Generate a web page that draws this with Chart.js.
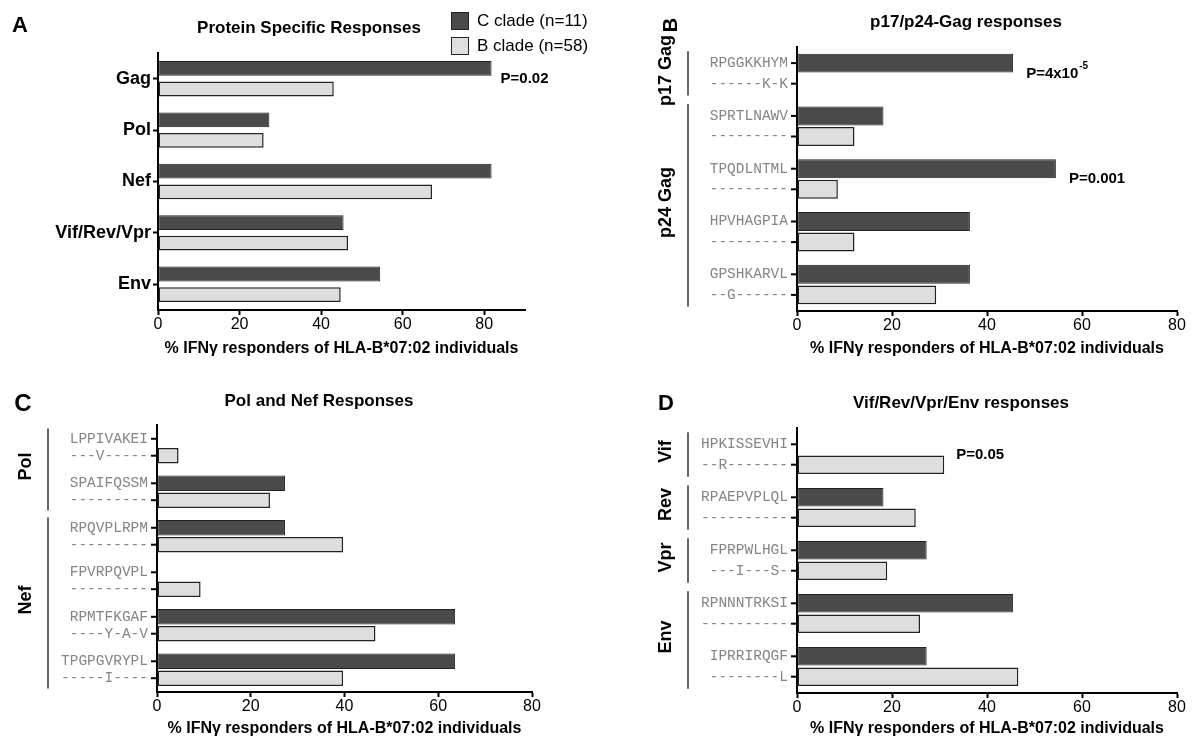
<!DOCTYPE html>
<html><head><meta charset="utf-8">
<script src="https://cdn.jsdelivr.net/npm/chart.js@4.4.1/dist/chart.umd.min.js"></script>
<style>
html,body{margin:0;padding:0;background:#fff}
body{width:1193px;height:741px;overflow:hidden;position:relative;font-family:"Liberation Sans",Arial,sans-serif;color:#000}
canvas{position:absolute}
.t{position:absolute;font-weight:bold;white-space:nowrap;transform:translate(-50%,-50%);line-height:1}
.lg{position:absolute;font-size:17px;white-space:nowrap;line-height:1}
.sw{position:absolute;width:16px;height:16px;border:1px solid #222}
</style></head><body>
<canvas id="cA" width="596" height="370" style="left:0;top:0"></canvas>
<canvas id="cB" width="597" height="370" style="left:596px;top:0"></canvas>
<canvas id="cC" width="596" height="371" style="left:0;top:370px"></canvas>
<canvas id="cD" width="597" height="371" style="left:596px;top:370px"></canvas>

<div class="t" style="left:20px;top:25px;font-size:22px">A</div>
<div class="t" style="left:670px;top:25px;font-size:20px;transform:translate(-50%,-50%) rotate(-90deg)">B</div>
<div class="t" style="left:23px;top:403px;font-size:24px">C</div>
<div class="t" style="left:666px;top:403px;font-size:22px">D</div>

<div class="t" style="left:309px;top:27px;font-size:17px">Protein Specific Responses</div>
<div class="t" style="left:966px;top:21px;font-size:17px">p17/p24-Gag responses</div>
<div class="t" style="left:319px;top:400px;font-size:17px">Pol and Nef Responses</div>
<div class="t" style="left:961px;top:402px;font-size:17px">Vif/Rev/Vpr/Env responses</div>

<div class="sw" style="left:451px;top:12px;background:#4a4a4a"></div>
<div class="lg" style="left:477px;top:12px">C clade (n=11)</div>
<div class="sw" style="left:451px;top:37px;background:#dedede"></div>
<div class="lg" style="left:477px;top:37px">B clade (n=58)</div>

<script>
// ---------- data ----------
const seriesNames = ['C clade (n=11)', 'B clade (n=58)'];
const xAxisTitle = '% IFN\u03b3 responders of HLA-B*07:02 individuals';

const categoriesA = ['Gag', 'Pol', 'Nef', 'Vif/Rev/Vpr', 'Env'];
const cCladeA = [81.8, 27.3, 81.8, 45.5, 54.5];
const bCladeA = [43.1, 25.9, 67.2, 46.6, 44.8];
const pCatsA = [0];
const pTextsA = ['P=0.02'];

const peptidesB = ['RPGGKKHYM', 'SPRTLNAWV', 'TPQDLNTML', 'HPVHAGPIA', 'GPSHKARVL'];
const variantsB = ['------K-K', '---------', '---------', '---------', '--G------'];
const cCladeB = [45.5, 18.2, 54.5, 36.4, 36.4];
const bCladeB = [0, 12.1, 8.6, 12.1, 29.3];
const groupNamesB = ['p17 Gag', 'p24 Gag'];
const groupSizesB = [1, 4];
const pCatsB = [0, 2];
const pTextsB = ['P=4x10^-5', 'P=0.001'];

const peptidesC = ['LPPIVAKEI', 'SPAIFQSSM', 'RPQVPLRPM', 'FPVRPQVPL', 'RPMTFKGAF', 'TPGPGVRYPL'];
const variantsC = ['---V-----', '---------', '---------', '---------', '----Y-A-V', '-----I----'];
const cCladeC = [0, 27.3, 27.3, 0, 63.6, 63.6];
const bCladeC = [4.6, 24.1, 39.7, 9.3, 46.6, 39.7];
const groupNamesC = ['Pol', 'Nef'];
const groupSizesC = [2, 4];

const peptidesD = ['HPKISSEVHI', 'RPAEPVPLQL', 'FPRPWLHGL', 'RPNNNTRKSI', 'IPRRIRQGF'];
const variantsD = ['--R-------', '----------', '---I---S-', '----------', '--------L'];
const cCladeD = [0, 18.2, 27.3, 45.5, 27.3];
const bCladeD = [31.0, 25.0, 19.0, 25.9, 46.6];
const groupNamesD = ['Vif', 'Rev', 'Vpr', 'Env'];
const groupSizesD = [1, 1, 1, 2];
const pCatsD = [0];
const pTextsD = ['P=0.05'];

// ---------- styles ----------
const SANS = '"Liberation Sans", Arial, sans-serif';
const MONO = '"Liberation Mono", "DejaVu Sans Mono", monospace';
const DARK = '#4a4a4a', LIGHT = '#dedede';
Chart.defaults.font.family = SANS;

function rowTicksPlugin() {
  return { id: 'rowTicks', afterDraw(chart) {
    const ctx = chart.ctx, left = chart.chartArea.left;
    ctx.save(); ctx.strokeStyle = '#000'; ctx.lineWidth = 2;
    chart.data.datasets.forEach((d, i) => {
      chart.getDatasetMeta(i).data.forEach(el => {
        ctx.beginPath(); ctx.moveTo(left - 6, el.y); ctx.lineTo(left, el.y); ctx.stroke();
      });
    });
    ctx.restore();
  }};
}

function groupPlugin(names, sizes, lineGap, textGap) {
  return { id: 'groups', afterDraw(chart) {
    const ctx = chart.ctx, y = chart.scales.y, left = chart.chartArea.left;
    const step = y.getPixelForValue(1) - y.getPixelForValue(0);
    let idx = 0;
    ctx.save();
    names.forEach((name, g) => {
      const first = idx, last = idx + sizes[g] - 1; idx += sizes[g];
      const y1 = y.getPixelForValue(first) - step * 0.42;
      const y2 = y.getPixelForValue(last) + step * 0.42;
      ctx.strokeStyle = '#333'; ctx.lineWidth = 1.5;
      ctx.beginPath(); ctx.moveTo(left - lineGap, y1); ctx.lineTo(left - lineGap, y2); ctx.stroke();
      ctx.save();
      ctx.translate(left - textGap, (y1 + y2) / 2 - 3);
      ctx.rotate(-Math.PI / 2);
      ctx.font = 'bold 18px ' + SANS; ctx.fillStyle = '#000';
      ctx.textAlign = 'center'; ctx.textBaseline = 'middle';
      ctx.fillText(name, 0, 0);
      ctx.restore();
    });
    ctx.restore();
  }};
}

function pNotesPlugin(cats, texts, gap) {
  return { id: 'pNotes', afterDraw(chart) {
    const ctx = chart.ctx, x = chart.scales.x, y = chart.scales.y;
    ctx.save(); ctx.fillStyle = '#000'; ctx.textBaseline = 'middle'; ctx.textAlign = 'left';
    cats.forEach((c, i) => {
      const maxV = Math.max(...chart.data.datasets.map(d => d.data[c] || 0));
      const px = x.getPixelForValue(maxV) + gap, py = y.getPixelForValue(c);
      const parts = texts[i].split('^');
      ctx.font = 'bold 15px ' + SANS;
      ctx.fillText(parts[0], px, py);
      if (parts[1]) {
        const w = ctx.measureText(parts[0]).width;
        ctx.font = 'bold 10px ' + SANS;
        ctx.fillText(parts[1], px + w + 1, py - 7);
      }
    });
    ctx.restore();
  }};
}

function makeChart(id, o) {
  const n = o.labels.length;
  const catPx = (o.bottom - o.top) / n;
  const slot = catPx * o.catPct / 2;
  const yTicks = o.mono
    ? { font: { family: MONO, size: 14.5, lineHeight: slot.toFixed(2) + 'px' }, color: '#858585', padding: 9 }
    : { font: { family: SANS, size: 18, weight: 'bold' }, color: '#000', padding: 2 };
  const yGrid = o.mono
    ? { drawOnChartArea: false, drawTicks: false }
    : { offset: false, drawOnChartArea: false, drawTicks: true, tickLength: 5, tickWidth: 2, tickColor: '#000' };
  const plugins = [];
  if (o.mono) plugins.push(rowTicksPlugin());
  if (o.groups) plugins.push(groupPlugin(o.groups[0], o.groups[1], 109, 131));
  if (o.pCats) plugins.push(pNotesPlugin(o.pCats, o.pTexts, o.pGap));
  return new Chart(document.getElementById(id), {
    type: 'bar',
    data: {
      labels: o.labels,
      datasets: [
        { label: seriesNames[0], data: o.c, backgroundColor: DARK, borderColor: '#222', borderWidth: 1,
          borderSkipped: false, categoryPercentage: o.catPct, barPercentage: o.barPct },
        { label: seriesNames[1], data: o.b, backgroundColor: LIGHT, borderColor: '#222', borderWidth: 1.5,
          borderSkipped: false, categoryPercentage: o.catPct, barPercentage: o.barPct }
      ]
    },
    options: {
      indexAxis: 'y', responsive: false, animation: false, devicePixelRatio: 1,
      layout: { padding: { left: 0, right: o.canvasW - o.right, top: o.top, bottom: 0 } },
      plugins: { legend: { display: false }, tooltip: { enabled: false }, title: { display: false } },
      scales: {
        x: {
          min: 0, max: o.xmax,
          ticks: { stepSize: 20, includeBounds: false, color: '#000', padding: 0, maxRotation: 0,
                   font: { family: SANS, size: 16 } },
          grid: { drawOnChartArea: false, drawTicks: true, tickLength: 5, tickWidth: 2, tickColor: '#000' },
          border: { display: true, color: '#000', width: 2 },
          title: { display: true, text: xAxisTitle, color: '#000',
                   font: { family: SANS, size: 16, weight: 'bold' }, padding: { top: 0, bottom: o.titlePb } },
          afterFit: s => { s.height = o.canvasH - o.bottom; }
        },
        y: {
          ticks: yTicks,
          grid: yGrid,
          border: { display: true, color: '#000', width: 2 },
          afterFit: s => { s.width = o.left; }
        }
      }
    },
    plugins: plugins
  });
}

function twoLine(pep, vars) { return pep.map((p, i) => [p, vars[i]]); }

makeChart('cA', { labels: categoriesA, c: cCladeA, b: bCladeA, mono: false,
  canvasW: 596, canvasH: 370, left: 158, right: 525, top: 53, bottom: 310, xmax: 90,
  catPct: 0.8, barPct: 0.72, titlePb: 12, pCats: pCatsA, pTexts: pTextsA, pGap: 9 });

makeChart('cB', { labels: twoLine(peptidesB, variantsB), c: cCladeB, b: bCladeB, mono: true,
  canvasW: 597, canvasH: 370, left: 201, right: 581, top: 47, bottom: 311, xmax: 80,
  catPct: 0.78, barPct: 0.92, titlePb: 12, groups: [groupNamesB, groupSizesB],
  pCats: pCatsB, pTexts: pTextsB, pGap: 13 });

makeChart('cC', { labels: twoLine(peptidesC, variantsC), c: cCladeC, b: bCladeC, mono: true,
  canvasW: 596, canvasH: 371, left: 157, right: 532, top: 55, bottom: 322, xmax: 80,
  catPct: 0.76, barPct: 0.91, titlePb: 3, groups: [groupNamesC, groupSizesC] });

makeChart('cD', { labels: twoLine(peptidesD, variantsD), c: cCladeD, b: bCladeD, mono: true,
  canvasW: 597, canvasH: 371, left: 201, right: 581, top: 58, bottom: 323, xmax: 80,
  catPct: 0.77, barPct: 0.9, titlePb: 3, groups: [groupNamesD, groupSizesD],
  pCats: pCatsD, pTexts: pTextsD, pGap: 12 });
</script>
</body></html>
